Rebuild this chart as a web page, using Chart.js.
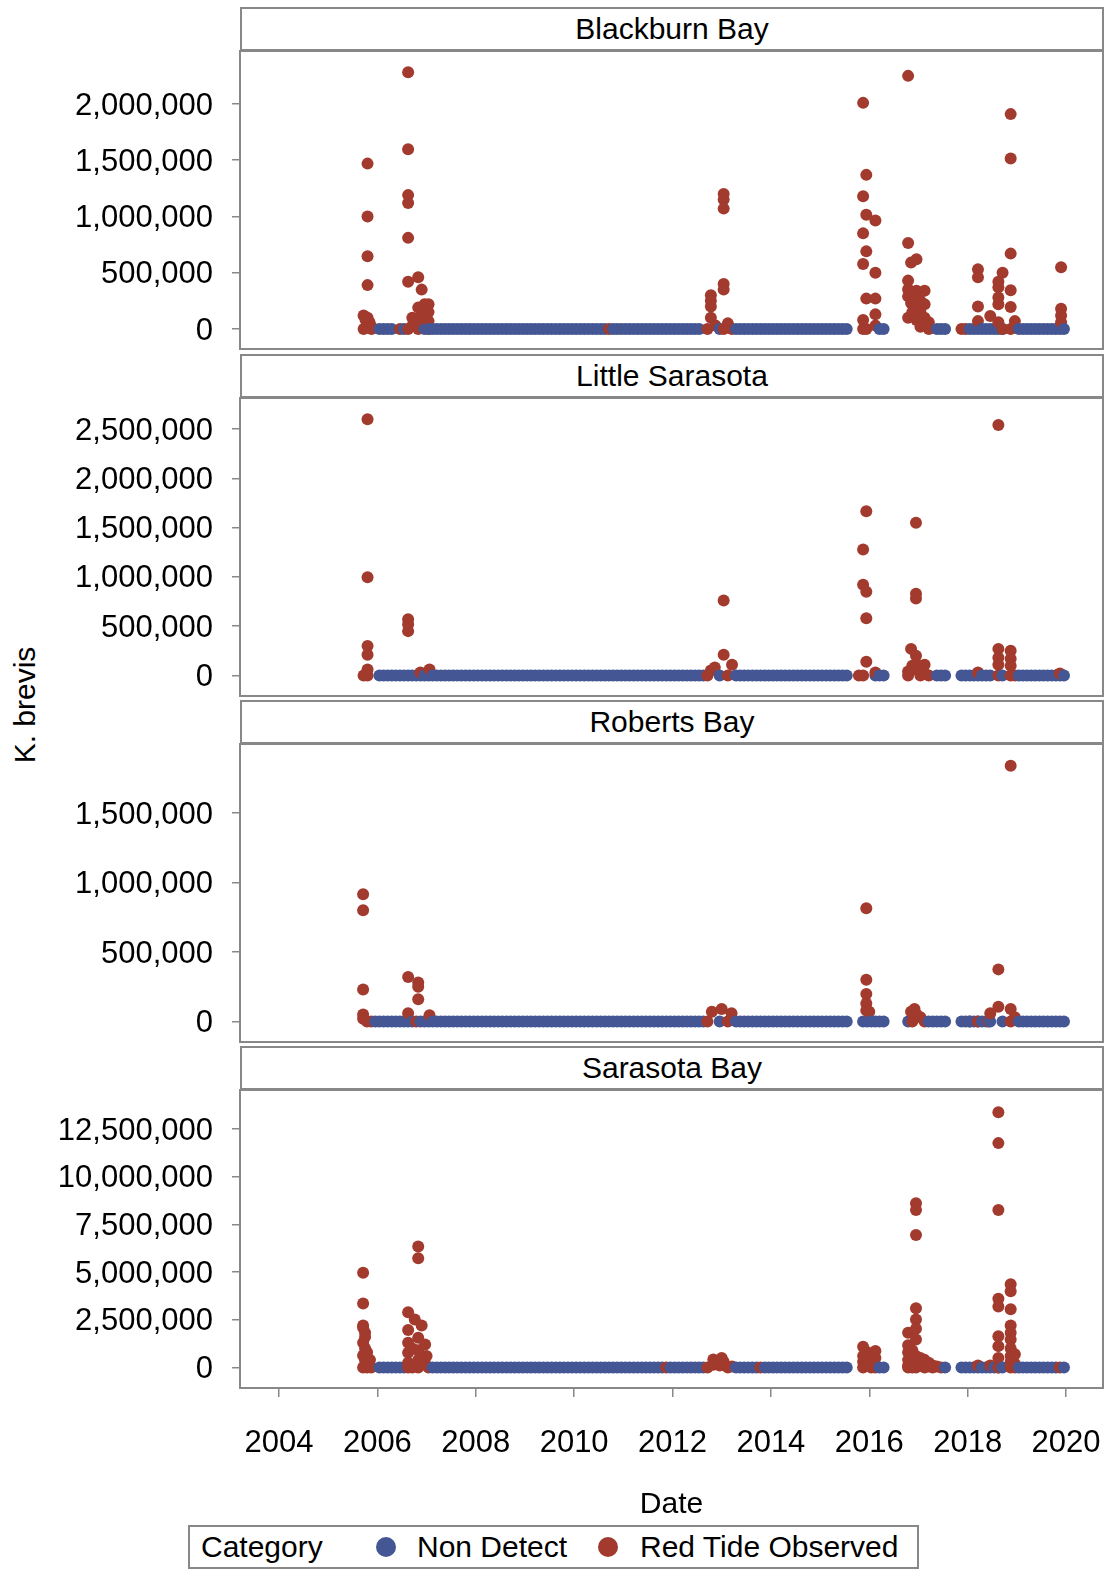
<!DOCTYPE html>
<html>
<head>
<meta charset="utf-8">
<script src="https://cdn.jsdelivr.net/npm/chart.js@4.4.1/dist/chart.umd.min.js"></script>
<style>
    body { margin: 0; background: #fff; }
    #page { position: relative; width: 1106px; height: 1570px; font-family: "Liberation Sans", Arial, sans-serif; color: #000; overflow: hidden; }
    .head { position: absolute; left: 240px; width: 864px; height: 44px; box-sizing: border-box; border: 2px solid #888; font-size: 30px; line-height: 40px; text-align: center; background: #fff; }
    canvas { position: absolute; left: 0; }
    .ytitle { position: absolute; left: 25px; top: 705px; font-size: 30px; white-space: nowrap; transform: translate(-50%, -50%) rotate(-90deg); }
    .legend { position: absolute; left: 188px; top: 1525px; width: 731px; height: 44px; box-sizing: border-box; border: 2px solid #888; font-size: 30px; line-height: 40px; }
    .legend span { position: absolute; top: 0; white-space: nowrap; }
    .legend i { position: absolute; top: 10px; width: 20px; height: 20px; border-radius: 50%; }
</style>
</head>
<body>
<div id="page">
    <div class="ytitle">K. brevis</div>
    <div class="legend">
        <span style="left:11px">Category</span>
        <i style="left:186px;background:#445694"></i>
        <span style="left:227px">Non Detect</span>
        <i style="left:408px;background:#A23A2E"></i>
        <span style="left:450px">Red Tide Observed</span>
    </div>
</div>
<script>
// 未检出采样月份：每行 = 年份 + 12个字符（o = 当月有未检出样本）
const ndBlackburn = [
    '2006 oooo..o....o', '2007 oooooooooooo', '2008 oooooooooooo', '2009 oooooooooooo',
    '2010 oooooooo.ooo', '2011 oooooooooooo', '2012 ooooooo....o', '2013 ...ooooooooo',
    '2014 oooooooooooo', '2015 ooooooo.....', '2016 ..oo........', '2017 ....ooo.....',
    '2018 ooooooooo...', '2019 oooooooooooo'
];
const ndLittleSarasota = [
    '2006 oooooooooooo', '2007 oooooooooooo', '2008 oooooooooooo', '2009 oooooooooooo',
    '2010 oooooooooooo', '2011 oooooooooooo', '2012 oooooooo...o', '2013 ...ooooooooo',
    '2014 oooooooooooo', '2015 ooooooo.....', '2016 .ooo........', '2017 ....ooo...oo',
    '2018 oooooo..o...', '2019 oooooooooooo'
];
const ndRoberts = [
    '2005 ...........o', '2006 ooooooooo.oo', '2007 oooooooooooo', '2008 oooooooooooo',
    '2009 oooooooooooo', '2010 oooooooooooo', '2011 oooooooooooo', '2012 oooooooo...o',
    '2013 ...ooooooooo', '2014 oooooooooooo', '2015 ooooooo...oo', '2016 oooo.....o..',
    '2017 ..ooooo...oo', '2018 oooooo..o...', '2019 oooooooooooo'
];
const ndSarasota = [
    '2006 ooooooo.....', '2007 .ooooooooooo', '2008 oooooooooooo', '2009 oooooooooooo',
    '2010 oooooooooooo', '2011 oooooooooo.o', '2012 oooooooo....', '2013 ...oooooo.oo',
    '2014 oooooooooooo', '2015 ooooooo.....', '2016 ..oo........', '2017 ......o...oo',
    '2018 ooooooooo...', '2019 oooooooooo.o'
];

// 赤潮观测：[日期(小数年), 细胞数]
const rtBlackburn = [
    [2005.72, 0], [2005.72, 120000], [2005.76, 80000], [2005.80, 1470000], [2005.80, 1000000],
    [2005.80, 646000], [2005.80, 390000], [2005.80, 100000], [2005.80, 40000], [2005.84, 60000],
    [2005.88, 20000], [2005.88, 0], [2006.46, 0],
    [2006.625, 2283000], [2006.625, 1598000], [2006.625, 1190000], [2006.625, 1120000], [2006.625, 810000],
    [2006.625, 420000], [2006.625, 0], [2006.71, 100000], [2006.71, 30000],
    [2006.83, 460000], [2006.83, 190000], [2006.83, 60000], [2006.83, 0], [2006.90, 350000], [2006.90, 150000],
    [2006.96, 220000], [2006.96, 100000], [2007.04, 220000], [2007.04, 150000], [2007.04, 70000], [2007.04, 0],
    [2010.71, 0],
    [2012.71, 0], [2012.78, 300000], [2012.78, 250000], [2012.78, 200000], [2012.78, 100000], [2012.875, 30000],
    [2013.04, 1200000], [2013.04, 1150000], [2013.04, 1070000], [2013.04, 400000], [2013.04, 350000], [2013.04, 0],
    [2013.125, 50000], [2013.21, 0],
    [2015.875, 2010000], [2015.875, 1180000], [2015.875, 850000], [2015.875, 578000], [2015.875, 80000], [2015.875, 0],
    [2015.94, 1370000], [2015.94, 1015000], [2015.94, 690000], [2015.94, 270000], [2015.94, 0],
    [2016.125, 964000], [2016.125, 500000], [2016.125, 270000], [2016.125, 130000], [2016.125, 30000],
    [2016.79, 2250000], [2016.79, 765000], [2016.79, 430000], [2016.79, 354000], [2016.79, 290000], [2016.79, 100000],
    [2016.85, 590000], [2016.85, 230000], [2016.875, 150000],
    [2016.96, 620000], [2016.96, 340000], [2016.96, 280000], [2016.96, 200000], [2016.96, 80000],
    [2017.04, 250000], [2017.04, 150000], [2017.04, 60000], [2017.04, 20000],
    [2017.125, 340000], [2017.125, 220000], [2017.125, 100000], [2017.125, 40000], [2017.21, 60000], [2017.21, 0],
    [2017.875, 0], [2017.96, 0],
    [2018.21, 530000], [2018.21, 460000], [2018.21, 200000], [2018.21, 70000], [2018.46, 116000],
    [2018.625, 420000], [2018.625, 370000], [2018.625, 280000], [2018.625, 220000], [2018.625, 60000],
    [2018.71, 500000], [2018.71, 0],
    [2018.875, 1910000], [2018.875, 1515000], [2018.875, 670000], [2018.875, 345000], [2018.875, 196000], [2018.875, 0],
    [2018.96, 70000],
    [2019.9, 548000], [2019.9, 180000], [2019.9, 120000], [2019.9, 60000]
];
const rtLittleSarasota = [
    [2005.72, 0], [2005.80, 2600000], [2005.80, 996000], [2005.80, 300000], [2005.80, 210000], [2005.80, 60000], [2005.80, 0],
    [2006.625, 570000], [2006.625, 520000], [2006.625, 450000], [2006.875, 30000], [2007.06, 60000],
    [2012.71, 0], [2012.78, 50000], [2012.86, 80000], [2013.04, 760000], [2013.04, 210000], [2013.125, 0], [2013.21, 110000],
    [2015.79, 0],
    [2015.875, 1277000], [2015.875, 920000], [2015.875, 0], [2015.94, 1667000], [2015.94, 850000], [2015.94, 580000], [2015.94, 140000],
    [2016.125, 30000],
    [2016.79, 40000], [2016.79, 0], [2016.85, 270000], [2016.875, 100000],
    [2016.95, 1550000], [2016.95, 830000], [2016.95, 780000], [2016.95, 200000], [2016.96, 60000],
    [2017.04, 100000], [2017.04, 0], [2017.125, 110000], [2017.125, 20000], [2017.21, 0],
    [2018.21, 30000],
    [2018.625, 2540000], [2018.625, 270000], [2018.625, 180000], [2018.625, 110000], [2018.625, 0],
    [2018.875, 250000], [2018.875, 170000], [2018.875, 100000], [2018.875, 0], [2018.96, 0],
    [2019.875, 20000]
];
const rtRoberts = [
    [2005.71, 916000], [2005.71, 800000], [2005.71, 230000], [2005.71, 50000], [2005.71, 20000], [2005.79, 0], [2005.875, 0],
    [2006.625, 320000], [2006.625, 60000], [2006.79, 0], [2006.83, 280000], [2006.83, 250000], [2006.83, 160000],
    [2007.06, 45000],
    [2012.71, 0], [2012.8, 70000], [2013.0, 90000], [2013.125, 0], [2013.2, 60000],
    [2015.94, 815000], [2015.94, 300000], [2015.94, 197000], [2015.94, 130000], [2015.94, 80000], [2016.0, 70000],
    [2016.85, 70000], [2016.875, 0], [2016.92, 90000], [2016.96, 50000], [2017.04, 30000], [2017.125, 0],
    [2018.04, 0], [2018.21, 0], [2018.43, 0], [2018.46, 60000],
    [2018.625, 375000], [2018.625, 106000],
    [2018.875, 1840000], [2018.875, 90000], [2018.875, 0], [2018.96, 30000]
];
const rtSarasota = [
    [2005.71, 4970000], [2005.71, 3360000], [2005.71, 2200000], [2005.71, 2080000], [2005.71, 1300000], [2005.71, 630000], [2005.71, 0],
    [2005.75, 1820000], [2005.75, 1600000], [2005.75, 1000000], [2005.75, 370000],
    [2005.79, 800000], [2005.79, 150000], [2005.79, 0], [2005.85, 400000], [2005.85, 50000], [2005.875, 0],
    [2006.625, 2900000], [2006.625, 1960000], [2006.625, 1300000], [2006.625, 770000], [2006.625, 250000], [2006.625, 0],
    [2006.71, 1000000], [2006.71, 0], [2006.76, 2520000],
    [2006.83, 6340000], [2006.83, 5720000], [2006.83, 1560000], [2006.83, 900000], [2006.83, 400000], [2006.83, 0],
    [2006.90, 2200000], [2006.90, 500000], [2006.97, 1200000], [2006.97, 200000], [2007.0, 600000], [2007.04, 0],
    [2011.875, 0],
    [2012.71, 0], [2012.83, 420000], [2012.83, 150000], [2012.96, 100000], [2013.0, 500000], [2013.04, 300000],
    [2013.04, 150000], [2013.125, 0], [2013.21, 50000], [2013.79, 0],
    [2015.875, 1090000], [2015.875, 600000], [2015.875, 300000], [2015.875, 0], [2015.96, 800000], [2015.96, 400000],
    [2015.96, 100000], [2016.04, 200000], [2016.04, 0], [2016.125, 860000], [2016.125, 500000], [2016.125, 100000], [2016.125, 0],
    [2016.79, 1820000], [2016.79, 1160000], [2016.79, 800000], [2016.79, 400000], [2016.79, 100000], [2016.79, 0],
    [2016.875, 900000], [2016.875, 500000], [2016.875, 200000], [2016.875, 0],
    [2016.95, 8610000], [2016.95, 8260000], [2016.95, 6950000], [2016.95, 3100000], [2016.95, 2520000],
    [2016.95, 2030000], [2016.95, 1470000], [2016.95, 600000], [2016.95, 0],
    [2017.04, 500000], [2017.04, 300000], [2017.04, 100000], [2017.125, 400000], [2017.125, 160000], [2017.125, 0],
    [2017.21, 250000], [2017.21, 50000], [2017.29, 100000], [2017.29, 0], [2017.375, 50000], [2017.46, 0],
    [2018.21, 100000], [2018.46, 100000],
    [2018.625, 13380000], [2018.625, 11760000], [2018.625, 8260000], [2018.625, 3600000], [2018.625, 3200000],
    [2018.625, 1640000], [2018.625, 1120000], [2018.625, 500000], [2018.625, 0],
    [2018.875, 4360000], [2018.875, 4000000], [2018.875, 3050000], [2018.875, 2200000], [2018.875, 1820000],
    [2018.875, 1470000], [2018.875, 1000000], [2018.875, 600000], [2018.875, 300000], [2018.875, 0],
    [2018.96, 700000], [2018.96, 200000], [2018.96, 0],
    [2019.875, 0]
];

// 坐标轴刻度
const xTicks = [2004, 2006, 2008, 2010, 2012, 2014, 2016, 2018, 2020];
const yTicksBlackburn = [0, 500000, 1000000, 1500000, 2000000];
const yTicksLittleSarasota = [0, 500000, 1000000, 1500000, 2000000, 2500000];
const yTicksRoberts = [0, 500000, 1000000, 1500000];
const yTicksSarasota = [0, 2500000, 5000000, 7500000, 10000000, 12500000];

const blue = '#445694';
const red = '#A23A2E';
const frameColor = '#888';
const tickFont = { family: '"Liberation Sans", Arial, sans-serif', size: 31 };
const titleFont = { family: '"Liberation Sans", Arial, sans-serif', size: 30 };

const panels = [
    { name: 'Blackburn Bay', nd: ndBlackburn, rt: rtBlackburn, ticks: yTicksBlackburn, min: -186667, max: 2480000, top: 50 },
    { name: 'Little Sarasota', nd: ndLittleSarasota, rt: rtLittleSarasota, ticks: yTicksLittleSarasota, min: -218053, max: 2824544, top: 397 },
    { name: 'Roberts Bay', nd: ndRoberts, rt: rtRoberts, ticks: yTicksRoberts, min: -154676, max: 2003597, top: 743 },
    { name: 'Sarasota Bay', nd: ndSarasota, rt: rtSarasota, ticks: yTicksSarasota, min: -1126834, max: 14596436, top: 1089 }
];

// 把月份字符串解码成点
function monthPoints(rows) {
    const pts = [];
    rows.forEach(row => {
        const year = parseInt(row.slice(0, 4));
        const marks = row.slice(5);
        for (let m = 0; m < 12; m++) {
            if (marks[m] === 'o') pts.push({ x: year + (m + 0.5) / 12, y: 0, c: blue });
        }
    });
    return pts;
}

// 绘图区边框
const framePlugin = {
    id: 'frame',
    afterDraw(chart) {
        const { ctx, chartArea: a } = chart;
        ctx.save();
        ctx.strokeStyle = frameColor;
        ctx.lineWidth = 2;
        ctx.strokeRect(a.left, a.top + 1, a.right - a.left, a.bottom - a.top - 2);
        ctx.restore();
    }
};

const page = document.getElementById('page');

panels.forEach((p, i) => {
    const isLast = i === panels.length - 1;

    const head = document.createElement('div');
    head.className = 'head';
    head.style.top = (p.top - 43) + 'px';
    head.textContent = p.name;
    page.appendChild(head);

    const canvas = document.createElement('canvas');
    canvas.width = 1106;
    canvas.height = isLast ? 434 : 300;
    canvas.style.top = p.top + 'px';
    page.appendChild(canvas);

    // 按日期顺序绘制，蓝红点按时间叠放
    const pts = monthPoints(p.nd)
        .concat(p.rt.map(d => ({ x: d[0], y: d[1], c: red })))
        .sort((a, b) => a.x - b.x);

    new Chart(canvas, {
        type: 'scatter',
        data: {
            datasets: [{
                data: pts.map(d => ({ x: d.x, y: d.y })),
                pointBackgroundColor: pts.map(d => d.c),
                pointRadius: 6,
                pointHoverRadius: 6,
                pointBorderWidth: 0
            }]
        },
        options: {
            responsive: false,
            animation: false,
            devicePixelRatio: 1,
            events: [],
            layout: { autoPadding: false, padding: { left: 0, right: 3, top: 0, bottom: 0 } },
            plugins: { legend: { display: false }, tooltip: { enabled: false } },
            scales: {
                x: {
                    type: 'linear',
                    display: isLast,
                    min: 2003.207,
                    max: 2020.752,
                    afterBuildTicks: s => { s.ticks = xTicks.map(v => ({ value: v })); },
                    afterFit: s => {
                        s.height = isLast ? 134 : 0;
                        s.paddingLeft = 0;
                        s.paddingRight = 0;
                    },
                    grid: { drawOnChartArea: false, drawTicks: true, tickLength: 8, color: frameColor, lineWidth: 1.5 },
                    border: { display: false },
                    ticks: { padding: 28, color: '#000', font: tickFont, autoSkip: false, maxRotation: 0, callback: v => String(v) },
                    title: { display: true, text: 'Date', color: '#000', font: titleFont, padding: 0 }
                },
                y: {
                    type: 'linear',
                    min: p.min,
                    max: p.max,
                    afterBuildTicks: s => { s.ticks = p.ticks.map(v => ({ value: v })); },
                    afterFit: s => {
                        s.width = 240;
                        s.paddingTop = 0;
                        s.paddingBottom = 0;
                    },
                    grid: { drawOnChartArea: false, drawTicks: true, tickLength: 8, color: frameColor, lineWidth: 1.5 },
                    border: { display: false },
                    ticks: { padding: 19, labelOffset: 2, color: '#000', font: tickFont, callback: v => v.toLocaleString('en-US') }
                }
            }
        },
        plugins: [framePlugin]
    });
});
</script>
</body>
</html>
